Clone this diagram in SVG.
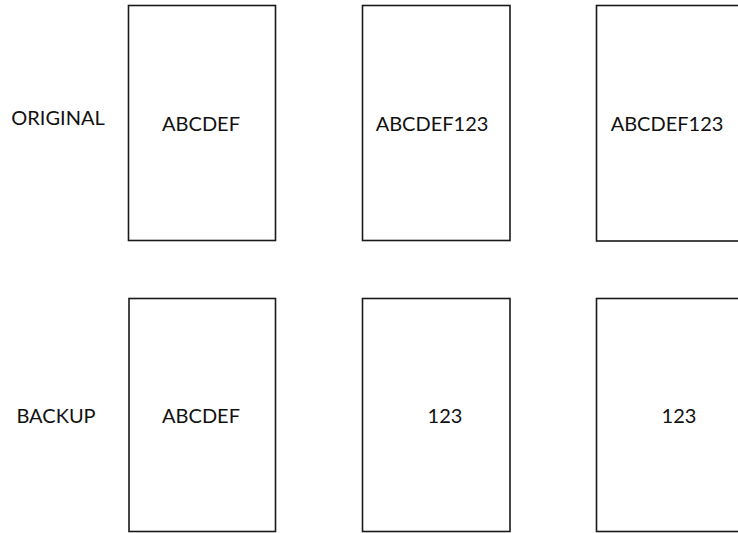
<svg xmlns="http://www.w3.org/2000/svg" width="738" height="533" viewBox="0 0 738 533">
<style>
.box{fill:#fff;stroke:#1a1a1a;stroke-width:1.6}
.t{font-family:Lato,"Open Sans","Liberation Sans",sans-serif;font-size:20px;fill:#111;text-anchor:middle}
</style>
<rect width="738" height="533" fill="#fff"/>
<g id="label-original"><text class="t" x="58" y="125">ORIGINAL</text></g>
<g id="label-backup"><text class="t" x="56" y="423">BACKUP</text></g>
<g id="orig1"><rect class="box" x="128.5" y="5.5" width="147" height="235"/><text class="t" x="201" y="131">ABCDEF</text></g>
<g id="orig2"><rect class="box" x="362.5" y="5.5" width="147.5" height="235"/><text class="t" x="432" y="131">ABCDEF123</text></g>
<g id="orig3"><rect class="box" x="596.5" y="5.5" width="160" height="235.5"/><text class="t" x="667" y="131">ABCDEF123</text></g>
<g id="backup1"><rect class="box" x="129" y="298.5" width="146.5" height="233"/><text class="t" x="201" y="423">ABCDEF</text></g>
<g id="backup2"><rect class="box" x="362.5" y="298.5" width="147.5" height="233"/><text class="t" x="445" y="423">123</text></g>
<g id="backup3"><rect class="box" x="596.5" y="298.5" width="160" height="233"/><text class="t" x="679" y="423">123</text></g>
<g id="connectors"></g>
</svg>
